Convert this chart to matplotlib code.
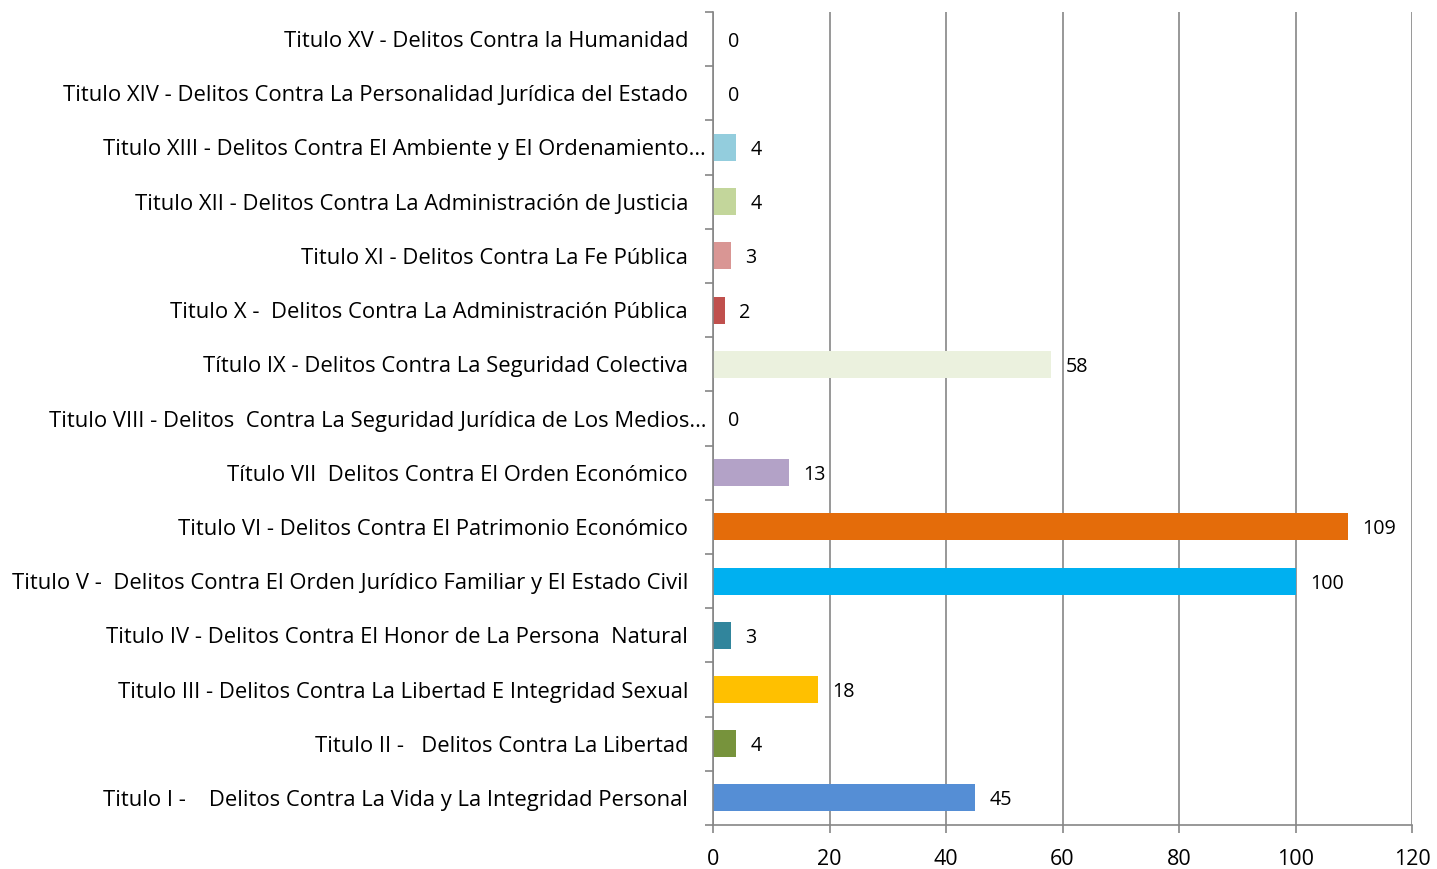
import matplotlib
matplotlib.use("Agg")
import matplotlib.pyplot as plt
import numpy as np

categories = [
    "Titulo I -    Delitos Contra La Vida y La Integridad Personal",
    "Titulo II -   Delitos Contra La Libertad",
    "Titulo III - Delitos Contra La Libertad E Integridad Sexual",
    "Titulo IV - Delitos Contra El Honor de La Persona  Natural",
    "Titulo V -  Delitos Contra El Orden Jurídico Familiar y El Estado Civil",
    "Titulo VI - Delitos Contra El Patrimonio Económico",
    "Título VII  Delitos Contra El Orden Económico",
    "Titulo VIII - Delitos  Contra La Seguridad Jurídica de Los Medios…",
    "Título IX - Delitos Contra La Seguridad Colectiva",
    "Titulo X -  Delitos Contra La Administración Pública",
    "Titulo XI - Delitos Contra La Fe Pública",
    "Titulo XII - Delitos Contra La Administración de Justicia",
    "Titulo XIII - Delitos Contra El Ambiente y El Ordenamiento…",
    "Titulo XIV - Delitos Contra La Personalidad Jurídica del Estado",
    "Titulo XV - Delitos Contra la Humanidad",
]
values = [45, 4, 18, 3, 100, 109, 13, 0, 58, 2, 3, 4, 4, 0, 0]
colors = ["#558ED5", "#77933C", "#FFC000", "#31859C", "#00B0F0", "#E46C0A",
          "#B3A2C7", "#FFFFFF", "#EBF1DE", "#C0504D", "#D99694", "#C3D69B",
          "#93CDDD", "#FFFFFF", "#FFFFFF"]
xticks = [0, 20, 40, 60, 80, 100, 120]

plt.rcParams['font.family'] = ['Open Sans', 'DejaVu Sans']
fig = plt.figure(figsize=(14.37, 8.69), dpi=100)
ax = fig.add_axes([0.4962, 0.0506, 0.4864, 0.9356])

y = np.arange(len(categories))
ax.barh(y, values, height=0.5, color=colors, zorder=3)
for yi, v in zip(y, values):
    ax.text(v + 2.5, yi, str(v), va='center_baseline', ha='left', fontsize=14.2, color='black')

ax.set_xlim(0, 120)
ax.set_ylim(-0.5, len(categories) - 0.5)
ax.set_xticks(xticks)
ax.set_xticklabels([str(t) for t in xticks], fontsize=15.5)
ax.set_yticks(y)
ax.set_yticklabels(categories, fontsize=15.85)
ax.set_yticks(np.arange(-0.5, len(categories), 1), minor=True)
ax.tick_params(axis='y', which='major', length=0, pad=18)
for i, t in enumerate(ax.yaxis.get_major_ticks()):
    if categories[i].endswith("…"):
        t.set_pad(5)
ax.tick_params(axis='y', which='minor', length=6, color='#868686', width=1.2)
ax.tick_params(axis='x', which='major', length=6, color='#868686', width=1.2, pad=11)
ax.grid(axis='x', color='#868686', linewidth=1.2, zorder=0)
for s in ['top', 'right']:
    ax.spines[s].set_visible(False)
for s in ['left', 'bottom']:
    ax.spines[s].set_color('#868686')
    ax.spines[s].set_linewidth(1.2)
    ax.spines[s].set_zorder(4)

fig.savefig("out.png", dpi=100)
